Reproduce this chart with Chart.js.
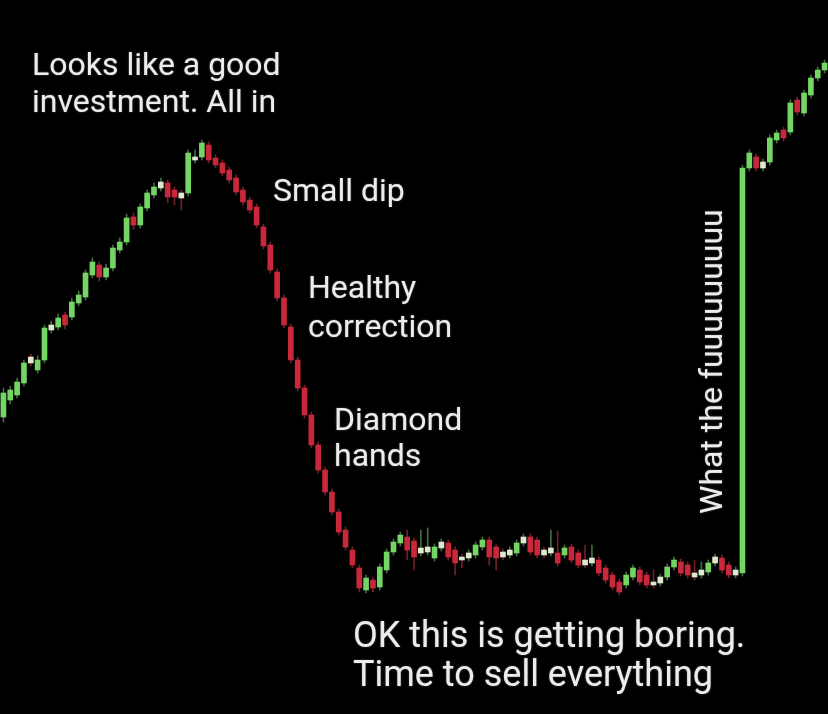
<!DOCTYPE html>
<html lang="en">
<head>
    <meta charset="UTF-8">
    <title>What the fuuu</title>
    <script src="https://cdn.jsdelivr.net/npm/chart.js"></script>
    <style>
    body {
        margin: 0;
        background: #000;
        overflow: hidden;
    }
    /* chart fills the whole page, no axes */
    .chart-box {
        position: relative;
        width: 828px;
        height: 714px;
        background: #000;
    }
    /* the reference is a blurry photo, soften the candles a bit */
    #memeChart {
        filter: blur(0.6px);
    }
    .note {
        position: absolute;
        font-family: Roboto, "Open Sans", sans-serif;
        font-size: 32px;
        color: #ececec;
        white-space: nowrap;
        text-shadow: 0 0 2px rgba(255, 255, 255, 0.35);
    }
    </style>
</head>
<body>
    <div class="chart-box">
        <canvas id="memeChart"></canvas>
        <div class="note" style="left:32px; top:46px; line-height:37px;">Looks like a good<br>investment. All in</div>
        <div class="note" style="left:273px; top:172px; line-height:37px;">Small dip</div>
        <div class="note" style="left:308px; top:268px; line-height:39px;">Healthy<br>correction</div>
        <div class="note" style="left:334px; top:401px; line-height:36px;">Diamond<br>hands</div>
        <div class="note" style="left:353px; top:616px; font-size:36px; line-height:39px;">OK this is getting boring.<br>Time to sell everything</div>
        <div class="note" style="left:695px; top:514px; line-height:32px; transform:rotate(-90deg); transform-origin:0 0;">What the fuuuuuuuuu</div>
    </div>

    <script>
        // candle values (price = distance from the bottom edge)
        const opens = [
            297, 314, 319, 331, 357, 344, 354, 384, 387, 399,
            397, 411, 417, 439, 449, 437, 446, 464, 472, 497,
            489, 506, 519, 526, 531, 524, 521,
            521, 554, 557, 569,
            556, 551, 544, 536, 524, 514, 507, 487,
            469, 442, 416, 387, 354, 326, 299, 269, 244, 222,
            202, 184, 164, 146, 124, 134, 127, 144, 162, 171,
            177, 173, 161, 162, 156, 166, 171, 164, 157, 156,
            159, 167, 174, 167, 162, 159, 161, 171, 177, 174,
            164, 161, 161, 159, 167, 161, 154, 151, 154, 146,
            139, 132, 129, 137, 144, 139, 132, 131, 137, 147,
            152, 149, 141, 139, 142, 151, 156, 149, 139,
            141,
            546, 557, 546, 552, 574, 584, 582, 614, 601, 619, 636, 644
        ];
        const closes = [
            321, 324, 332, 351, 351, 354, 386, 389, 396, 389,
            412, 419, 441, 452, 437, 446, 466, 472, 496, 489,
            507, 521, 527, 532, 517, 517, 516,
            561, 557, 571, 554,
            549, 541, 534, 522, 512, 504, 489, 468,
            444, 416, 389, 354, 326, 299, 269, 244, 222, 202,
            182, 167, 149, 126, 136, 126, 147, 162, 172, 179,
            164, 157, 166, 167, 167, 172, 157, 151, 154, 161,
            169, 174, 157, 156, 157, 164, 171, 177, 162, 159,
            159, 166, 151, 166, 154, 149, 149, 156, 141, 134,
            127, 122, 139, 146, 132, 129, 129, 137, 147, 154,
            141, 139, 137, 144, 151, 157, 144, 139, 144,
            546,
            561, 546, 552, 576, 581, 576, 611, 602, 621, 636, 644, 651
        ];
        const highs = [
            326, 328, 336, 354, 360, 358, 389, 393, 400, 402,
            416, 423, 444, 456, 452, 450, 469, 476, 500, 501,
            510, 524, 531, 536, 534, 527, 524,
            564, 564, 574, 572,
            559, 554, 547, 539, 527, 517, 510, 490,
            472, 445, 419, 390, 357, 329, 302, 272, 247, 225,
            205, 187, 167, 149, 139, 137, 150, 165, 175, 182,
            184, 176, 184, 186, 170, 175, 174, 167, 160, 164,
            172, 177, 177, 170, 165, 167, 174, 180, 180, 177,
            167, 184, 183, 169, 170, 164, 169, 169, 157, 149,
            142, 135, 142, 149, 147, 142, 144, 140, 150, 157,
            155, 152, 154, 152, 154, 160, 159, 152, 147,
            549,
            564, 560, 555, 579, 584, 587, 614, 617, 624, 639, 647, 654
        ];
        const lows = [
            292, 310, 316, 328, 348, 341, 351, 381, 384, 385,
            394, 408, 414, 436, 433, 434, 443, 461, 469, 485,
            486, 503, 516, 523, 511, 509, 504,
            518, 551, 554, 551,
            546, 538, 531, 519, 509, 501, 486, 465,
            441, 413, 386, 351, 323, 296, 266, 241, 219, 199,
            179, 164, 146, 122, 121, 122, 124, 141, 159, 168,
            154, 144, 158, 159, 153, 163, 154, 139, 146, 153,
            156, 164, 149, 144, 154, 156, 158, 168, 159, 156,
            156, 158, 148, 156, 151, 146, 146, 148, 138, 131,
            124, 119, 126, 134, 129, 126, 126, 128, 134, 144,
            138, 136, 134, 136, 139, 148, 141, 136, 136,
            138,
            543, 543, 543, 549, 571, 573, 579, 599, 598, 616, 633, 641
        ];
        const candleLabels = opens.map((_, i) => 'c' + (i + 1));

        const GREEN = '#74d464';
        const RED = '#c9283a';
        const PALE = '#dfe8cf';

        function bodyColor(i) {
            const diff = closes[i] - opens[i];
            if (Math.abs(diff) <= 6) return PALE;
            return diff > 0 ? GREEN : RED;
        }

        function wickColor(i) {
            return closes[i] >= opens[i] ? 'rgba(120, 200, 110, 0.55)' : 'rgba(200, 60, 70, 0.55)';
        }

        const ctx = document.getElementById('memeChart').getContext('2d');
        new Chart(ctx, {
            type: 'bar',
            data: {
                labels: candleLabels,
                datasets: [
                    {
                        label: 'body',
                        data: opens.map((o, i) => [o, closes[i]]),
                        backgroundColor: c => bodyColor(c.dataIndex),
                        barThickness: 5,
                        grouped: false,
                        borderWidth: 0,
                        order: 1
                    },
                    {
                        label: 'wick',
                        data: lows.map((l, i) => [l, highs[i]]),
                        backgroundColor: c => wickColor(c.dataIndex),
                        barThickness: 1,
                        grouped: false,
                        borderWidth: 0,
                        order: 2
                    }
                ]
            },
            options: {
                responsive: true,
                maintainAspectRatio: false,
                animation: false,
                devicePixelRatio: 1,
                layout: { padding: 0 },
                plugins: {
                    legend: { display: false },
                    tooltip: { enabled: false }
                },
                scales: {
                    x: { display: false, offset: true },
                    y: { display: false, min: 0, max: 714 }
                }
            }
        });
    </script>
</body>
</html>
